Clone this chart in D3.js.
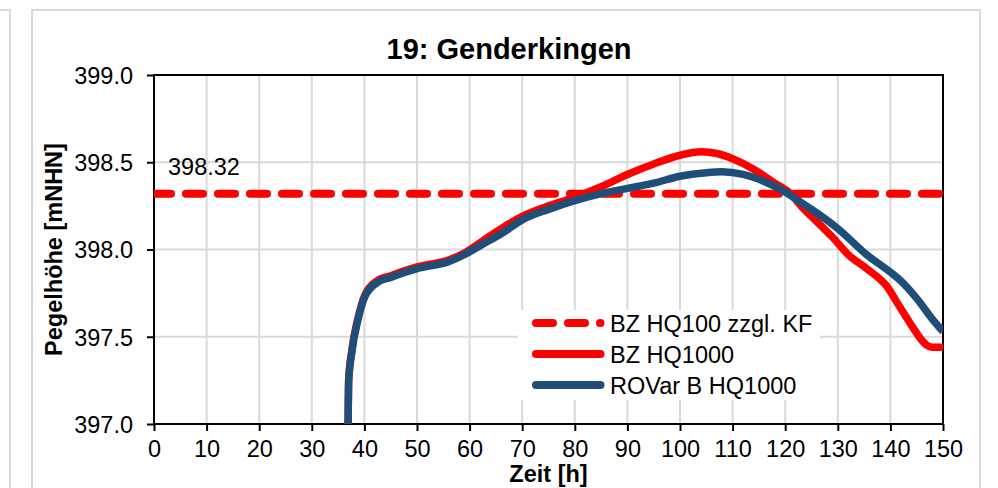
<!DOCTYPE html>
<html>
<head>
<meta charset="utf-8">
<script src="https://cdn.jsdelivr.net/npm/d3@7/dist/d3.min.js"></script>
<style>
  html, body { margin: 0; padding: 0; background: #fff; }
  svg { display: block; font-family: "Liberation Sans", Arial, sans-serif; }
</style>
</head>
<body>
<svg id="chart" width="998" height="488"></svg>
<script>
// ---- data ----
const title = "19: Genderkingen";
const xLabel = "Zeit [h]";
const yLabel = "Pegelhöhe [mNHN]";
const xTicks = [0, 10, 20, 30, 40, 50, 60, 70, 80, 90, 100, 110, 120, 130, 140, 150];
const yTicks = [397.0, 397.5, 398.0, 398.5, 399.0];
const seriesNames = ["BZ HQ100 zzgl. KF", "BZ HQ1000", "ROVar B HQ1000"];
const thresholdValue = 398.32;
const thresholdLabel = "398.32";

const bzHQ1000 = [
  [36.9, 397.00], [37.0, 397.25], [37.6, 397.42], [38.8, 397.61], [40.1, 397.74],
  [42.4, 397.82], [45, 397.85], [50, 397.90], [56, 397.94], [59, 397.98],
  [62.5, 398.05], [66, 398.12], [70, 398.19], [75, 398.25], [80, 398.30],
  [85, 398.36], [90, 398.43], [95, 398.49], [100, 398.54], [104, 398.56],
  [107, 398.55], [110, 398.52], [114, 398.46], [118, 398.38], [121, 398.32],
  [123, 398.25], [126, 398.16], [129, 398.07], [132, 397.97], [135.5, 397.89],
  [139.3, 397.79], [141.8, 397.67], [143.7, 397.58], [147, 397.45], [148, 397.44],
  [150, 397.44]
];
const rovarBHQ1000 = [
  [36.9, 397.00], [37.0, 397.24], [37.6, 397.41], [38.8, 397.60], [40.1, 397.73],
  [42.4, 397.81], [45, 397.84], [50, 397.89], [56, 397.93], [59, 397.97],
  [62.5, 398.03], [66, 398.09], [70, 398.17], [75, 398.23], [80, 398.28],
  [85, 398.32], [90, 398.35], [95, 398.38], [100, 398.42], [105, 398.44],
  [108, 398.445], [112, 398.43], [116, 398.39], [120, 398.33], [123, 398.27],
  [126, 398.21], [130, 398.12], [135.5, 397.97], [140, 397.87], [142, 397.82],
  [145, 397.72], [148, 397.60], [150, 397.53]
];

// ---- drawing ----
const RED = "#ff0000", BLUE = "#1f4e79", GRID = "#d9d9d9";
const FS = 23.5;
const svg = d3.select("#chart");
const x = d3.scaleLinear().domain([0, 150]).range([154, 943]);
const y = d3.scaleLinear().domain([397, 399]).range([424, 75]);

// outer frames
svg.append("path").attr("d", "M0,10H10V500").attr("fill", "none").attr("stroke", GRID).attr("stroke-width", 2);
svg.append("rect").attr("x", 32).attr("y", 10).attr("width", 948).attr("height", 500)
  .attr("fill", "#fff").attr("stroke", GRID).attr("stroke-width", 2);

// grid
const grid = svg.append("g");
grid.selectAll(".vg").data(xTicks.slice(1, -1)).join("line")
  .attr("x1", d => x(d)).attr("x2", d => x(d)).attr("y1", y(399)).attr("y2", y(397))
  .attr("stroke", GRID).attr("stroke-width", 2);
grid.selectAll(".hg").data(yTicks.slice(1, -1)).join("line")
  .attr("x1", x(0)).attr("x2", x(150)).attr("y1", d => y(d)).attr("y2", d => y(d))
  .attr("stroke", GRID).attr("stroke-width", 2);

// legend background (hides grid)
svg.append("rect").attr("x", 518).attr("y", 310).attr("width", 302).attr("height", 90).attr("fill", "#fff");

// plot border
svg.append("rect").attr("x", x(0)).attr("y", y(399)).attr("width", x(150) - x(0)).attr("height", y(397) - y(399))
  .attr("fill", "none").attr("stroke", "#000").attr("stroke-width", 2);

// axes
const xAxis = svg.append("g").attr("transform", `translate(0,${y(397)})`)
  .call(d3.axisBottom(x).tickValues(xTicks).tickSize(7).tickPadding(10).tickFormat(d3.format("d")));
const yAxis = svg.append("g").attr("transform", `translate(${x(0)},0)`)
  .call(d3.axisLeft(y).tickValues(yTicks).tickSize(7).tickPadding(14).tickFormat(d3.format(".1f")));
[xAxis, yAxis].forEach(a => {
  a.select(".domain").remove();
  a.selectAll("line").attr("stroke", "#000").attr("stroke-width", 2);
  a.selectAll("text").attr("font-size", FS).attr("fill", "#000")
    .attr("font-family", "'Liberation Sans', Arial, sans-serif");
});
yAxis.selectAll("text").attr("dy", "0.36em");
xAxis.selectAll("text").attr("dy", "0.7em");

// clip for lines
svg.append("clipPath").attr("id", "clip").append("rect")
  .attr("x", x(0)).attr("y", y(399)).attr("width", x(150) - x(0)).attr("height", y(397) - y(399) + 4);

const line = d3.line().x(d => x(d[0])).y(d => y(d[1])).curve(d3.curveMonotoneX);
const lines = svg.append("g").attr("clip-path", "url(#clip)");

// threshold dashed line
lines.append("line").attr("x1", x(0)).attr("x2", x(150)).attr("y1", y(thresholdValue)).attr("y2", y(thresholdValue))
  .attr("stroke", RED).attr("stroke-width", 8).attr("stroke-dasharray", "17,15").attr("stroke-linecap", "round");

lines.append("path").datum(bzHQ1000).attr("d", line).attr("fill", "none")
  .attr("stroke", RED).attr("stroke-width", 7.5).attr("stroke-linejoin", "round");
lines.append("path").datum(rovarBHQ1000).attr("d", line).attr("fill", "none")
  .attr("stroke", BLUE).attr("stroke-width", 7.5).attr("stroke-linejoin", "round");

// threshold label
svg.append("text").attr("x", 168).attr("y", 175).attr("font-size", FS).text(thresholdLabel);

// title
svg.append("text").attr("x", 509).attr("y", 59).attr("text-anchor", "middle")
  .attr("font-size", 29).attr("font-weight", "bold").text(title);

// axis labels
svg.append("text").attr("x", (x(0) + x(150)) / 2).attr("y", 482).attr("text-anchor", "middle")
  .attr("font-size", FS).attr("font-weight", "bold").text(xLabel);
svg.append("text").attr("transform", `translate(62,${(y(397) + y(399)) / 2}) rotate(-90)`)
  .attr("text-anchor", "middle").attr("font-size", FS).attr("font-weight", "bold").text(yLabel);

// legend
const legendRows = [
  { name: seriesNames[0], color: RED, dash: "17,15" },
  { name: seriesNames[1], color: RED, dash: null },
  { name: seriesNames[2], color: BLUE, dash: null }
];
const lg = svg.append("g");
legendRows.forEach((r, i) => {
  const cy = 323 + i * 31;
  const l = lg.append("line").attr("x1", 536).attr("x2", 600.5).attr("y1", cy).attr("y2", cy)
    .attr("stroke", r.color).attr("stroke-width", 8).attr("stroke-linecap", "round");
  if (r.dash) l.attr("stroke-dasharray", r.dash);
  lg.append("text").attr("x", 610).attr("y", cy + 8.5).attr("font-size", FS).text(r.name);
});
</script>
</body>
</html>
